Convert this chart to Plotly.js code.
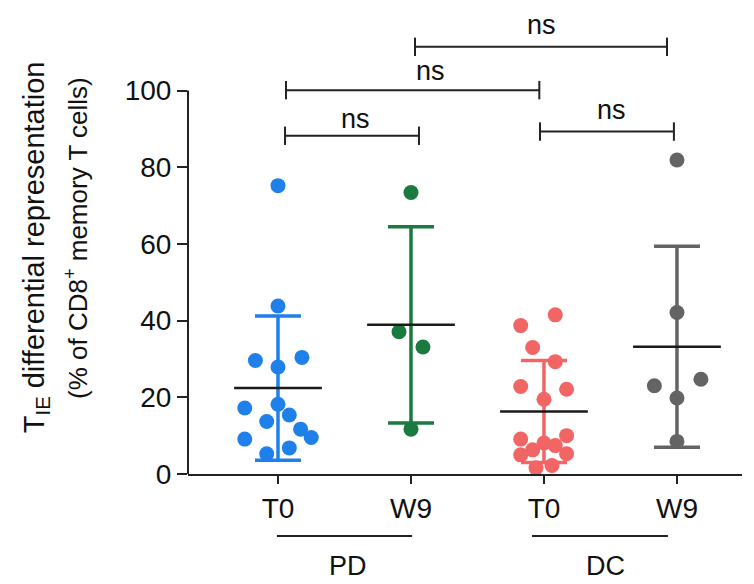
<!DOCTYPE html>
<html>
<head>
<meta charset="utf-8">
<script src="https://cdn.plot.ly/plotly-3.0.1.min.js"></script>
<style>html,body{margin:0;padding:0;background:#fff;}#chart{width:754px;height:584px;}</style>
</head>
<body>
<div id="chart"></div>
<script>
// ---- data ----
var categories = ['T0', 'W9', 'T0', 'W9'];
var groupNames = ['PD', 'DC'];

var pdT0 = [75.2, 43.8, 29.6, 30.4, 27.9, 17.2, 18.2, 13.7, 15.4, 11.7, 9.5, 9.1, 6.8, 5.3];
var pdT0Jitter = [0, 0, -0.17, 0.18, 0, -0.25, 0, -0.085, 0.085, 0.17, 0.25, -0.25, 0.085, -0.085];

var pdW9 = [73.4, 37.1, 33.1, 11.7];
var pdW9Jitter = [0, -0.09, 0.09, 0];

var dcT0 = [41.5, 38.7, 33.0, 29.3, 22.8, 22.1, 19.5, 9.1, 10.0, 8.1, 6.3, 7.4, 5.0, 5.3, 1.6, 2.2];
var dcT0Jitter = [0.085, -0.175, -0.085, 0.085, -0.175, 0.17, 0, -0.175, 0.17, 0, -0.085, 0.085, -0.175, 0.17, -0.06, 0.06];

var dcW9 = [81.9, 42.1, 23.0, 24.7, 19.8, 8.5];
var dcW9Jitter = [0, 0, -0.17, 0.18, 0, 0];

var means = [22.4, 38.9, 16.3, 33.2];
var sds = [18.8, 25.6, 13.3, 26.2];

var colors = ['#1f80ea', '#1a7a40', '#f26565', '#646464'];

// significance brackets: [from, to], bracket level, label level, label x
var bracketFrom = [1.03, 0.06, 0.053, 1.97];
var bracketTo = [2.925, 1.965, 1.06, 2.977];
var bracketLevel = [111.4, 100.1, 88.2, 89.3];
var bracketLabelY = [116.6, 104.6, 92.0, 94.3];
var bracketLabelX = [1.985, 1.15, 0.586, 2.51];
var bracketLabels = ['ns', 'ns', 'ns', 'ns'];

// group underlines below the axis
var groupFrom = [-0.008, 1.91];
var groupTo = [1.008, 2.932];
var groupLabelX = [0.526, 2.459];

var yTicks = [0, 20, 40, 60, 80, 100];

// ---- build ----
var FONT = 'Liberation Sans, Arial, sans-serif';
var series = [pdT0, pdW9, dcT0, dcW9];
var jitters = [pdT0Jitter, pdW9Jitter, dcT0Jitter, dcW9Jitter];
var traces = [];

series.forEach(function (vals, g) {
  traces.push({
    type: 'scatter', mode: 'markers',
    x: jitters[g].map(function (j) { return g + j; }),
    y: vals,
    marker: {size: 15, color: colors[g], line: {width: 0}},
    cliponaxis: false, hoverinfo: 'skip', showlegend: false
  });
});
means.forEach(function (m, g) {
  traces.push({
    type: 'scatter', mode: 'markers',
    x: [g], y: [m],
    marker: {size: 1, color: 'rgba(0,0,0,0)'},
    error_y: {type: 'data', array: [sds[g]], symmetric: true, color: colors[g], thickness: 3.5, width: 23},
    cliponaxis: false, hoverinfo: 'skip', showlegend: false
  });
});
means.forEach(function (m, g) {
  traces.push({
    type: 'scatter', mode: 'lines',
    x: [g - 0.33, g + 0.33], y: [m, m],
    line: {color: '#1a1a1a', width: 2.5},
    cliponaxis: false, hoverinfo: 'skip', showlegend: false
  });
});

var shapes = [];
var annotations = [];
var LINE = {color: '#222', width: 2};
var capH = 2.4;
for (var i = 0; i < bracketFrom.length; i++) {
  var a = bracketFrom[i], b = bracketTo[i], y = bracketLevel[i];
  shapes.push({type: 'line', xref: 'x', yref: 'y', x0: a, x1: b, y0: y, y1: y, line: LINE});
  shapes.push({type: 'line', xref: 'x', yref: 'y', x0: a, x1: a, y0: y - capH, y1: y + capH, line: LINE});
  shapes.push({type: 'line', xref: 'x', yref: 'y', x0: b, x1: b, y0: y - capH, y1: y + capH, line: LINE});
  annotations.push({xref: 'x', yref: 'y', x: bracketLabelX[i], y: bracketLabelY[i], text: bracketLabels[i],
    showarrow: false, xanchor: 'center', yanchor: 'middle', yshift: 2,
    font: {family: FONT, size: 27, color: '#111'}});
}
// y axis line from 0 to 100
shapes.push({type: 'line', xref: 'paper', yref: 'y', x0: 0, x1: 0, y0: 0, y1: yTicks[yTicks.length - 1], line: {color: '#222', width: 2}});

for (var k = 0; k < groupFrom.length; k++) {
  shapes.push({type: 'line', xref: 'x', yref: 'paper', x0: groupFrom[k], x1: groupTo[k], y0: -0.1336, y1: -0.1336, line: LINE});
  annotations.push({xref: 'x', yref: 'paper', x: groupLabelX[k], y: -0.2349, text: groupNames[k],
    showarrow: false, xanchor: 'center', yanchor: 'bottom',
    font: {family: FONT, size: 27, color: '#111'}});
}

// y axis title (two lines)
annotations.push({xref: 'paper', yref: 'paper', x: -0.275, y: 0.488, textangle: -90,
  text: 'T<sub>IE</sub> differential representation', showarrow: false,
  xanchor: 'center', yanchor: 'middle', font: {family: FONT, size: 29, color: '#111'}});
annotations.push({xref: 'paper', yref: 'paper', x: -0.2, y: 0.509, textangle: -90,
  text: '(% of CD8<sup>+</sup> memory T cells)', showarrow: false,
  xanchor: 'center', yanchor: 'middle', font: {family: FONT, size: 26, color: '#111'}});

var layout = {
  width: 754, height: 584,
  margin: {l: 188, r: 12, t: 10, b: 110},
  paper_bgcolor: '#fff', plot_bgcolor: '#fff',
  showlegend: false,
  font: {family: FONT, color: '#111'},
  xaxis: {
    range: [-0.6767, 3.489],
    tickvals: [0, 1, 2, 3], ticktext: categories,
    showline: true, linecolor: '#222', linewidth: 2,
    ticks: 'outside', ticklen: 8, tickwidth: 2, tickcolor: '#222',
    showgrid: false, zeroline: false,
    tickfont: {family: FONT, size: 28, color: '#111'}
  },
  yaxis: {
    range: [0, 121],
    tickvals: yTicks, ticktext: yTicks.map(String),
    showline: false,
    ticks: 'outside', ticklen: 10, tickwidth: 2, tickcolor: '#222',
    showgrid: false, zeroline: false,
    tickfont: {family: FONT, size: 28, color: '#111'}
  },
  shapes: shapes,
  annotations: annotations
};

Plotly.newPlot('chart', traces, layout, {staticPlot: true, displayModeBar: false});
</script>
</body>
</html>
